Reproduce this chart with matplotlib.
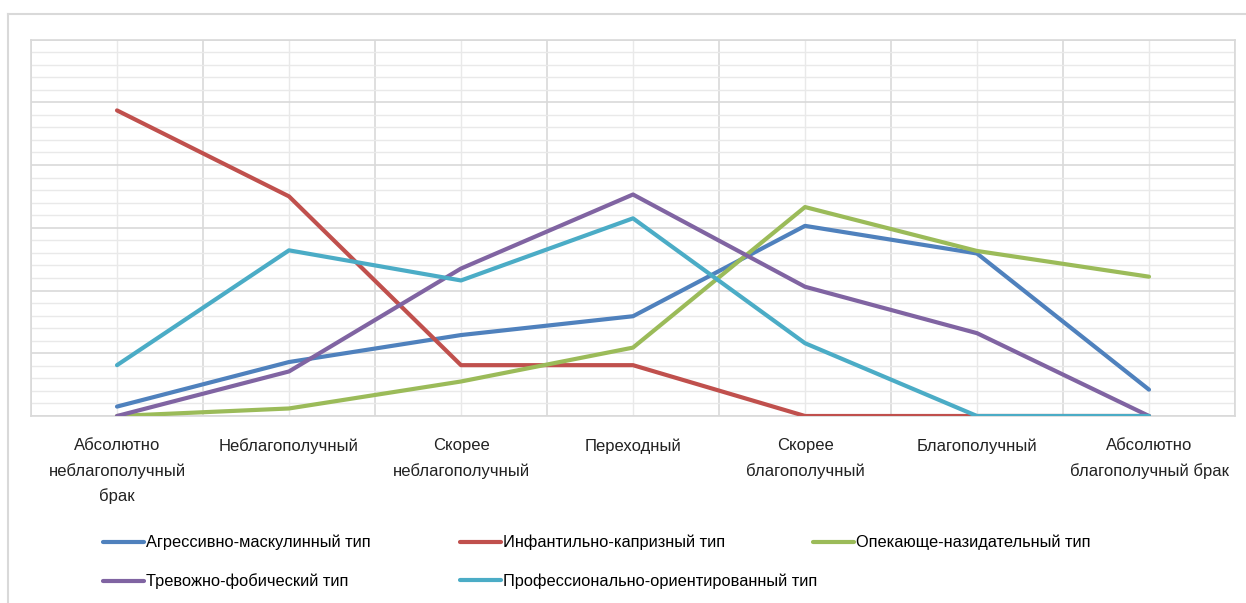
import matplotlib.pyplot as plt
from matplotlib.lines import Line2D
from matplotlib.ticker import MultipleLocator
import numpy as np

plt.rcParams['font.family'] = ['Liberation Sans', 'DejaVu Sans']

# categories of marriage wellbeing
categories = ['Абсолютно\nнеблагополучный\nбрак', 'Неблагополучный',
              'Скорее\nнеблагополучный', 'Переходный',
              'Скорее\nблагополучный', 'Благополучный',
              'Абсолютно\nблагополучный брак']

names = ['Агрессивно-маскулинный тип', 'Инфантильно-капризный тип',
         'Опекающе-назидательный тип', 'Тревожно-фобический тип',
         'Профессионально-ориентированный тип']

aggressive = [1.5, 8.6, 12.9, 15.9, 30.3, 25.9, 4.2]
infantile = [48.7, 35.0, 8.1, 8.1, 0, 0, 0]
patronizing = [0, 1.2, 5.5, 10.9, 33.3, 26.3, 22.2]
anxious = [0, 7.1, 23.5, 35.3, 20.6, 13.2, 0]
professional = [8.1, 26.4, 21.6, 31.5, 11.6, 0, 0]

series = [aggressive, infantile, patronizing, anxious, professional]
colors = ['#4F81BD', '#C0504D', '#9BBB59', '#8064A2', '#4BACC6']

fig = plt.figure(figsize=(12.46, 6.03), dpi=100)
W, H = 1246, 603
ax = fig.add_axes([31 / W, 1 - 416 / H, (1235 - 31) / W, (416 - 39.5) / H])

x = np.arange(len(categories))
handles = []
for vals, c, n in zip(series, colors, names):
    h, = ax.plot(x, vals, color=c, lw=3, label=n, solid_capstyle='round',
                 solid_joinstyle='round', zorder=3)
    handles.append(h)

ax.set_xlim(-0.5, len(categories) - 0.5)
ax.set_ylim(0, 60)

# grid: major on boundaries / every 10, minor on centers / every 2
ax.xaxis.set_major_locator(MultipleLocator(1, offset=0.5))
ax.xaxis.set_minor_locator(MultipleLocator(1))
ax.yaxis.set_major_locator(MultipleLocator(10))
ax.yaxis.set_minor_locator(MultipleLocator(2))
ax.grid(which='major', color='#D9D9D9', lw=1.2, zorder=0)
ax.grid(which='minor', color='#E9E9E9', lw=1.0, zorder=0)
ax.set_axisbelow(True)

ax.set_xticks(x, minor=True)
ax.set_xticklabels(categories, minor=True, fontsize=12, linespacing=1.75,
                   color='#222222')
ax.set_xticklabels([])
ax.set_yticklabels([])
ax.tick_params(which='both', length=0)
ax.tick_params(axis='x', which='minor', pad=16)
for s in ax.spines.values():
    s.set_color('#D9D9D9')
    s.set_linewidth(1.2)

# legend laid out in three evenly spaced columns
cols = [[0, 3], [1, 4], [2]]
col_x = [103, 460, 813]
for xs, idx in zip(col_x, cols):
    fig.legend([handles[i] for i in idx], [names[i] for i in idx],
               loc='upper left', bbox_to_anchor=(xs / W, 1 - 535 / H),
               frameon=False, fontsize=11.8, handlelength=2.5,
               handletextpad=0.15, labelspacing=1.4, borderpad=0,
               borderaxespad=0)

# outer chart frame (left and top edges)
fig.add_artist(Line2D([8 / W, 8 / W], [0, 1 - 14 / H], color='#D9D9D9',
                      lw=1.5, transform=fig.transFigure))
fig.add_artist(Line2D([8 / W, 1], [1 - 14 / H, 1 - 14 / H], color='#D9D9D9',
                      lw=1.5, transform=fig.transFigure))

fig.savefig('out.png', dpi=100)
